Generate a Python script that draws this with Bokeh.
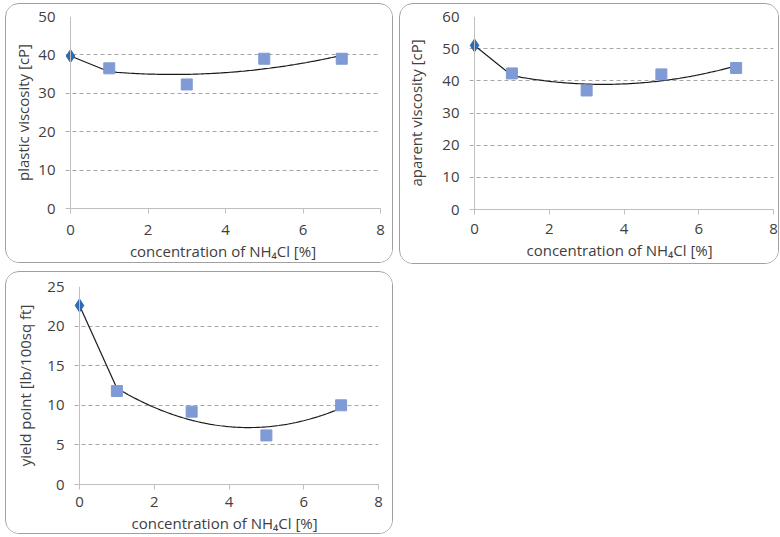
import numpy as np
from bokeh.plotting import figure
from bokeh.layouts import row, column
from bokeh.models import Range1d, FixedTicker, Span
from bokeh.embed import file_html
from bokeh.resources import INLINE

# ---- data ----
conc_ref = [0]
conc = [1, 3, 5, 7]

pv_ref = [39.7]
pv = [36.5, 32.3, 39.0, 39.0]

av_ref = [51.0]
av = [42.3, 37.0, 42.0, 44.0]

yp_ref = [22.6]
yp = [11.8, 9.2, 6.2, 10.0]

x_ticks = [0, 2, 4, 6, 8]
pv_ticks = [0, 10, 20, 30, 40, 50]
av_ticks = [0, 10, 20, 30, 40, 50, 60]
yp_ticks = [0, 5, 10, 15, 20, 25]

x_label = "concentration of NH\u2084Cl [%]"
x_label2 = "concentration of NH\u2084Cl  [%]"

FONT = "Open Sans"
TXT = "#404040"
AXIS = "#BFBFBF"
GRID = "#A6A6A6"
REF_C = "#2E6BB5"
SQ_C = "#7F9AD5"
TICK_PX = 5  # pixels that the grid/ticks reach left of the y axis


def panel(w, h, x0px, x8px, top, bottom, xs_ref, ys_ref, xs, ys, ymax, yticks,
          ylabel, xlabel, xstand, ylab_stand):
    scale = (x8px - x0px) / 8.0
    xstart = -TICK_PX / scale
    p = figure(width=w, height=h, output_backend="svg", toolbar_location=None,
               x_range=Range1d(xstart, 8), y_range=Range1d(0, ymax),
               min_border_left=x0px - TICK_PX, min_border_right=w - x8px,
               min_border_top=top, min_border_bottom=bottom)
    p.outline_line_color = None
    p.background_fill_color = "white"
    p.border_fill_color = "white"
    p.styles = {"border": "1px solid #A0A0A0", "border-radius": "14px",
                "overflow": "hidden"}

    p.xaxis.ticker = FixedTicker(ticks=x_ticks)
    p.yaxis.ticker = FixedTicker(ticks=yticks)
    for ax in (p.xaxis, p.yaxis):
        ax.minor_tick_line_color = None
        ax.major_label_text_font = FONT
        ax.major_label_text_font_size = "15px"
        ax.major_label_text_color = TXT
        ax.axis_label_text_font = FONT
        ax.axis_label_text_color = TXT
        ax.axis_label_text_font_style = "normal"
    p.xaxis.axis_line_color = AXIS
    p.xaxis.major_tick_line_color = AXIS
    p.xaxis.major_tick_out = 5
    p.xaxis.major_tick_in = 0
    p.yaxis.axis_line_color = None
    p.yaxis.major_tick_line_color = None
    p.yaxis.major_tick_out = 0
    p.yaxis.major_tick_in = 0

    p.xaxis.axis_label = xlabel
    p.yaxis.axis_label = ylabel
    p.xaxis.axis_label_text_font_size = "15px"
    p.yaxis.axis_label_text_font_size = "15px"
    p.xaxis.major_label_standoff = xstand
    p.xaxis.axis_label_standoff = 3
    p.yaxis.major_label_standoff = 10
    p.yaxis.axis_label_standoff = ylab_stand

    p.xgrid.grid_line_color = None
    p.ygrid.grid_line_color = GRID
    p.ygrid.grid_line_dash = "4 3"
    p.ygrid.grid_line_width = 1

    p.add_layout(Span(location=0, dimension="height", line_color=AXIS, line_width=1))

    # quadratic trendline of the measured series
    coef = np.polyfit(xs, ys, 2)
    tx = np.linspace(min(xs), max(xs), 120)
    ty = np.polyval(coef, tx)
    p.line([xs_ref[0], tx[0]], [ys_ref[0], ty[0]], line_color="#1a1a1a", line_width=1.2)
    p.line(tx, ty, line_color="#1a1a1a", line_width=1.2)

    p.scatter(xs, ys, marker="square", size=11, fill_color=SQ_C, line_color=SQ_C)
    p.scatter(xs_ref, ys_ref, marker="diamond", size=13, fill_color=REF_C, line_color=REF_C)
    return p


p1 = panel(388, 260, 64, 374, 11, 56, conc_ref, pv_ref, conc, pv, 50, pv_ticks,
           "plastic viscosity [cP]", x_label, 11, 2)
p2 = panel(380, 261, 74, 373, 12, 53, conc_ref, av_ref, conc, av, 60, av_ticks,
           "aparent viscosity [cP]", x_label2, 9, 13)
p3 = panel(388, 263, 73, 372, 14, 51, conc_ref, yp_ref, conc, yp, 25, yp_ticks,
           "yield point [lb/100sq ft]", x_label2, 7, 9)

layout = column(row(p1, p2, spacing=6), p3, spacing=7, margin=(3, 0, 0, 5))

open("out.html", "w").write(file_html(layout, INLINE))
